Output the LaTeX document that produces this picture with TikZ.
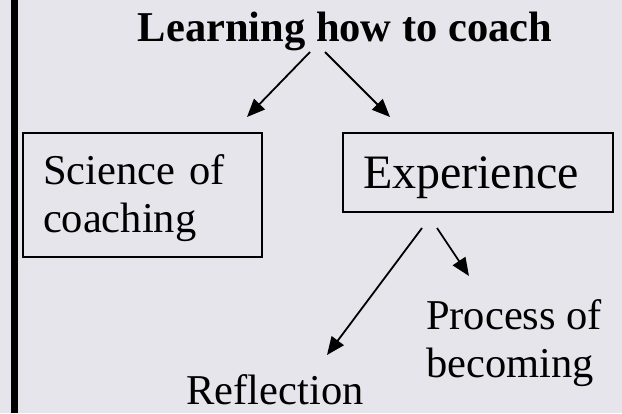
\documentclass[tikz,border=0pt]{standalone}
\usepackage{fontspec}
\setmainfont{Liberation Serif}
\usepackage{xcolor}
\usepackage{tikz}
\usetikzlibrary{arrows.meta}
\usetikzlibrary{positioning}
\definecolor{slidebg}{RGB}{230,229,235}
\tikzset{
    boxnode/.style = {rectangle, draw=black, line width=2.8pt, align=left, inner xsep=20pt, inner ysep=0pt},
    plainnode/.style = {inner sep=0pt, align=left},
    arr/.style = {-{Triangle[length=18pt,width=15pt]}, line width=1.8pt},
}
\begin{document}
\begin{tikzpicture}[
	x=1pt, y=-1pt,
	font=\fontsize{42.5}{48}\selectfont
]
\useasboundingbox (0,0) rectangle (622,413);
\fill[slidebg] (0,0) rectangle (622,413);
\fill[black] (11,0) rectangle (18,413);
%
\node[plainnode, anchor=base, font=\fontsize{42.5}{48}\selectfont\bfseries] at (345,41) (title) {Learning how to coach};
\node[boxnode, text width=199pt, minimum height=124pt] at (142.5,195) (science) {\rule{0pt}{37pt}Science of\\coaching};
\node[boxnode, text width=230pt, minimum height=79pt, text depth=0pt, font=\fontsize{48}{52}\selectfont] at (478,172.5) (exper) {Experience};
\node[plainnode, anchor=north west] at (426,299) (process) {Process of\\becoming};
\node[plainnode, anchor=base] at (275,404) (reflect) {Reflection};
%
\coordinate (t1) at (310,52);
\coordinate (t2) at (325,52);
\coordinate (s1) at (247,117);
\coordinate (e1) at (390,117);
\coordinate (x1) at (422,228);
\coordinate (x2) at (437,228);
\coordinate (r1) at (327,355);
\coordinate (p1) at (469,276);
%
\draw[arr] (t1) -- (s1);
\draw[arr] (t2) -- (e1);
\draw[arr] (x1) -- (r1);
\draw[arr] (x2) -- (p1);
\end{tikzpicture}
\end{document}
